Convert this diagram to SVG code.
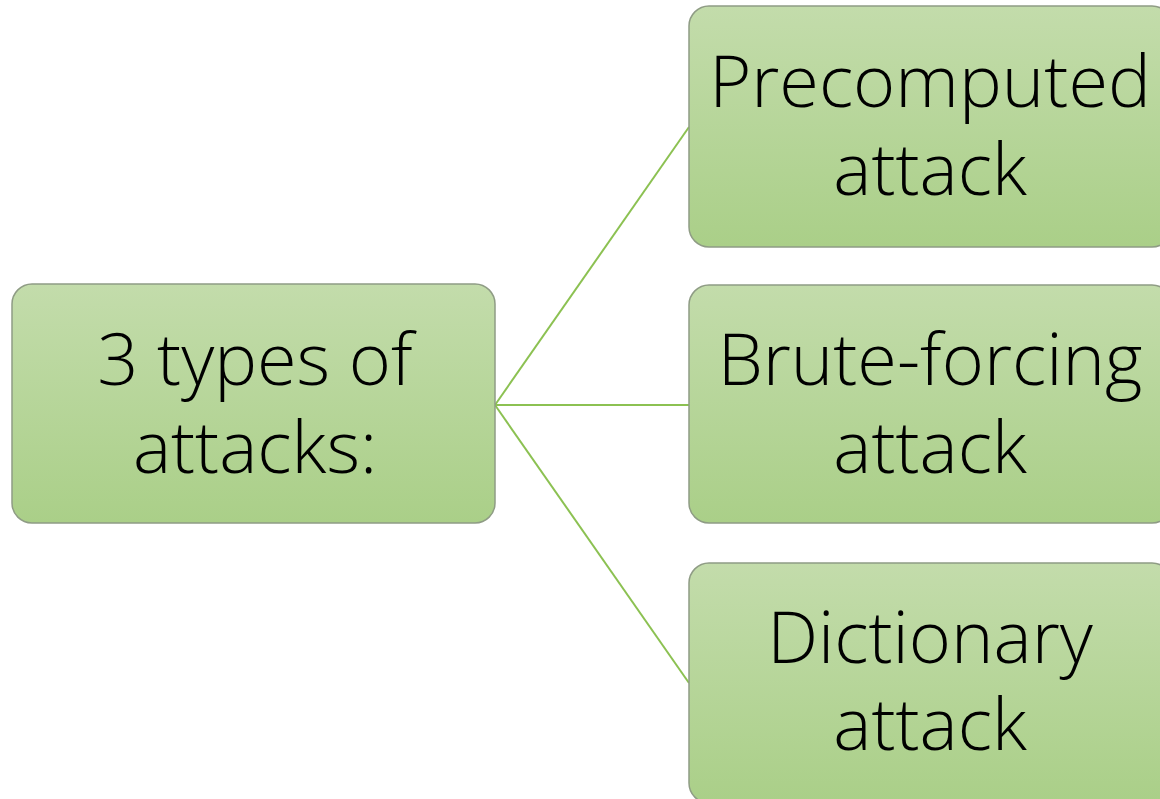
<svg xmlns="http://www.w3.org/2000/svg" width="1160" height="799" viewBox="0 0 1160 799">
<defs>
<linearGradient id="g" x1="0" y1="0" x2="0" y2="1">
<stop offset="0" stop-color="#c3dcab"/>
<stop offset="1" stop-color="#aacf88"/>
</linearGradient>
<style>
.box{fill:url(#g);stroke:#8f9c85;stroke-width:1.5}
.t{font-family:"Open Sans","Liberation Sans",sans-serif;font-weight:300;font-size:72px;fill:#000;text-anchor:middle}
.c{stroke:#8cc152;stroke-width:2;fill:none}
</style>
</defs>
<rect width="1160" height="799" fill="#fff"/>
<g id="connectors">
<line class="c" x1="495" y1="405" x2="689" y2="127"/>
<line class="c" x1="495" y1="405" x2="689" y2="405"/>
<line class="c" x1="495" y1="405" x2="689" y2="683"/>
</g>
<g id="root">
<rect class="box" x="12" y="284" width="483" height="239" rx="20"/>
<text class="t" x="255" y="385">3 types of</text>
<text class="t" x="255" y="473">attacks:</text>
</g>
<g id="precomputed">
<rect class="box" x="689" y="6" width="483" height="241" rx="20"/>
<text class="t" x="930" y="107">Precomputed</text>
<text class="t" x="930" y="195">attack</text>
</g>
<g id="brute">
<rect class="box" x="689" y="285" width="483" height="238" rx="20"/>
<text class="t" x="930" y="385">Brute-forcing</text>
<text class="t" x="930" y="473">attack</text>
</g>
<g id="dictionary">
<rect class="box" x="689" y="563" width="483" height="240" rx="20"/>
<text class="t" x="930" y="663">Dictionary</text>
<text class="t" x="930" y="750">attack</text>
</g>
</svg>
